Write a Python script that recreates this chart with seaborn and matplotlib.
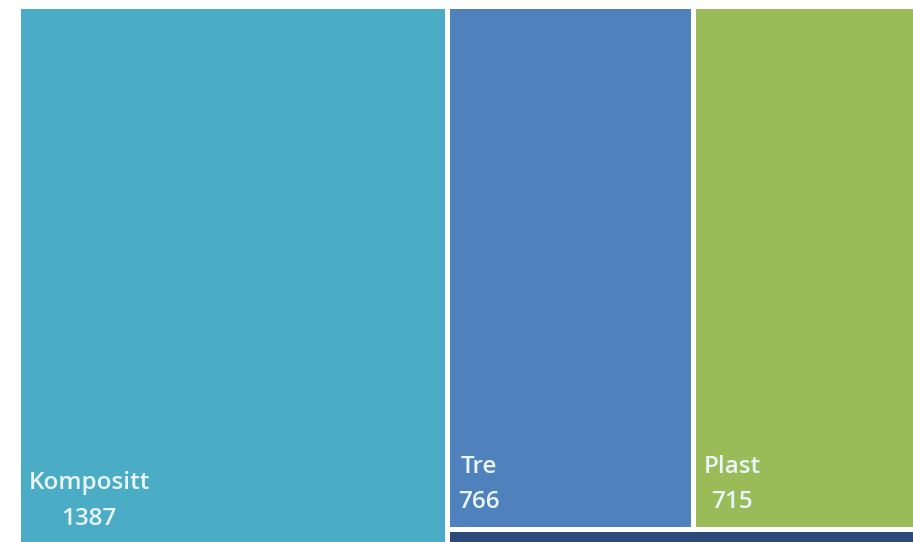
import matplotlib
matplotlib.use('Agg')
import matplotlib.pyplot as plt
import seaborn as sns
from matplotlib.patches import Rectangle

# data
labels = ['Kompositt', 'Tre', 'Plast', '']
values = [1387, 766, 715, 47]
colors = ['#4BACC6', '#4F81BD', '#9BBB59', '#2B4A78']

sns.set_theme(style='white')
plt.rcParams['font.family'] = ['Open Sans', 'DejaVu Sans']
palette = sns.color_palette(colors)

# chart frame (the picture is a crop of the full treemap)
x0, y0, W, H = 17.5, 5.5, 903.7, 540.6
total = sum(values)

# simple slice layout: first item is a full-height column,
# items 2-3 share a top row, the rest goes below
rects = []
w1 = W * values[0] / total
rects.append((x0, y0, w1, H))
rest = total - values[0]
top = values[1] + values[2]
h_top = H * top / rest
rw = W - w1
xx = x0 + w1
for v in values[1:3]:
    w = rw * v / top
    rects.append((xx, y0, w, h_top))
    xx += w
rects.append((x0 + w1, y0 + h_top, rw, H - h_top))

fig = plt.figure(figsize=(9.13, 5.42), dpi=100)
ax = fig.add_axes([0, 0, 1, 1])
for (x, y, w, h), c, lab, v in zip(rects, palette, labels, values):
    ax.add_patch(Rectangle((x, y), w, h, facecolor=c, edgecolor='white', linewidth=3.6))
    if lab:
        ax.text(x + 11, y + h - 15, f'{lab}\n{v}', ha='left', va='bottom',
                multialignment='center', color='#EAF6FB', fontsize=17.5,
                fontweight='semibold', linespacing=1.65)

ax.set_xlim(0, 913)
ax.set_ylim(542, 0)
ax.axis('off')
fig.savefig('out.png', dpi=100)
